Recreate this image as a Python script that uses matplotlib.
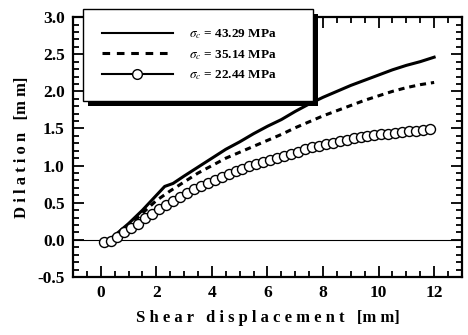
import matplotlib
matplotlib.use('Agg')
import matplotlib.pyplot as plt
from matplotlib.patches import Rectangle
from matplotlib.ticker import MultipleLocator

plt.rcParams['font.family'] = 'Liberation Serif'
plt.rcParams['mathtext.fontset'] = 'stix'

# sigma_c = 43.29 MPa (solid)
x_a = [0.2, 0.5, 1.0, 1.5, 2.0, 2.3, 2.6, 3.0, 3.5, 4.0, 4.5, 5.0, 5.5, 6.0, 6.5,
       7.0, 7.5, 8.0, 8.5, 9.0, 9.5, 10.0, 10.5, 11.0, 11.5, 12.0]
y_a = [-0.03, 0.06, 0.22, 0.40, 0.60, 0.72, 0.76, 0.86, 0.98, 1.10, 1.22, 1.32, 1.43, 1.53, 1.62,
       1.73, 1.83, 1.92, 2.00, 2.08, 2.15, 2.22, 2.29, 2.35, 2.40, 2.46]

# sigma_c = 35.14 MPa (dashed)
x_b = [0.3, 0.6, 1.0, 1.5, 2.0, 2.5, 3.0, 3.5, 4.0, 4.5, 5.0, 5.5, 6.0, 6.5,
       7.0, 7.5, 8.0, 8.5, 9.0, 9.5, 10.0, 10.5, 11.0, 11.5, 12.0]
y_b = [-0.02, 0.06, 0.18, 0.36, 0.53, 0.66, 0.78, 0.90, 1.00, 1.10, 1.18, 1.26, 1.34, 1.42,
       1.51, 1.59, 1.67, 1.74, 1.81, 1.88, 1.94, 2.00, 2.05, 2.09, 2.12]

# sigma_c = 22.44 MPa (circles)
x_c = [0.10, 0.35, 0.60, 0.85, 1.10, 1.35, 1.60, 1.85, 2.10, 2.35, 2.60, 2.85,
       3.10, 3.35, 3.60, 3.85, 4.10, 4.35, 4.60, 4.85, 5.10, 5.35, 5.60, 5.85,
       6.10, 6.35, 6.60, 6.85, 7.10, 7.35, 7.60, 7.85, 8.10, 8.35, 8.60, 8.85,
       9.10, 9.35, 9.60, 9.85, 10.10, 10.35, 10.60, 10.85, 11.10, 11.35, 11.60, 11.85]
y_c = [-0.03, -0.01, 0.04, 0.10, 0.16, 0.22, 0.29, 0.35, 0.41, 0.47, 0.52, 0.58,
       0.63, 0.68, 0.72, 0.77, 0.81, 0.85, 0.89, 0.93, 0.96, 0.99, 1.02, 1.05,
       1.07, 1.10, 1.13, 1.16, 1.19, 1.22, 1.25, 1.27, 1.29, 1.31, 1.33, 1.35,
       1.37, 1.38, 1.40, 1.41, 1.42, 1.43, 1.44, 1.45, 1.46, 1.47, 1.48, 1.49]

labels = [r'$\sigma_c$ = 43.29 MPa', r'$\sigma_c$ = 35.14 MPa', r'$\sigma_c$ = 22.44 MPa']
yticks = [-0.5, 0.0, 0.5, 1.0, 1.5, 2.0, 2.5, 3.0]

fig = plt.figure(figsize=(4.68, 3.35), dpi=100)
ax = fig.add_axes([0.156, 0.173, 0.831, 0.776])

ax.axhline(0, color='k', lw=0.8, zorder=1)
ax.plot(x_a, y_a, color='k', lw=2.2, label=labels[0])
ax.plot(x_b, y_b, color='k', lw=2.2, ls=(0, (2, 1.6)), label=labels[1])
ax.plot(x_c, y_c, color='k', lw=1.0, ls='none', marker='o', ms=7.2,
        mfc='white', mec='k', mew=1.0, label=labels[2])

ax.set_xlim(-1, 13)
ax.set_ylim(-0.5, 3.0)
ax.xaxis.set_major_locator(MultipleLocator(2))
ax.xaxis.set_minor_locator(MultipleLocator(0.5))
ax.set_yticks(yticks)
ax.set_yticklabels(['%.1f' % v for v in yticks])
ax.yaxis.set_minor_locator(MultipleLocator(0.1))
ax.tick_params(which='both', direction='in', top=True, right=True, width=1.3,
               labelsize=12.5, pad=6)
ax.tick_params(which='major', length=8)
ax.tick_params(which='minor', length=4)
for lab in ax.get_xticklabels() + ax.get_yticklabels():
    lab.set_fontweight('bold')
for s in ax.spines.values():
    s.set_linewidth(1.6)

ax.set_xlabel('S h e a r   d i s p l a c e m e n t   [m m]', fontsize=12,
              fontweight='bold', labelpad=6)
ax.set_ylabel('D i l a t i o n   [m m]', fontsize=12, fontweight='bold', labelpad=5)

# legend with a solid black drop shadow
h1 = plt.Line2D([], [], color='k', lw=1.5)
h2 = plt.Line2D([], [], color='k', lw=2.2, ls=(0, (2.5, 2.2)))
h3 = plt.Line2D([], [], color='k', lw=1.5, marker='o', ms=7, mfc='white', mec='k')
leg = ax.legend([h1, h2, h3], labels, loc='upper left', mode='expand',
                bbox_to_anchor=(0.026, 0.7, 0.59, 0.331), borderaxespad=0,
                handlelength=5.4, handletextpad=1.2, labelspacing=0.5, fontsize=9.5,
                fancybox=False, edgecolor='k', framealpha=1, borderpad=1.4)
leg.get_frame().set_linewidth(1.0)
for t in leg.get_texts():
    t.set_fontweight('bold')
leg.set_zorder(6)

fig.canvas.draw()
bb = leg.get_window_extent()
shadow = Rectangle((bb.x0 + 5, bb.y0 - 5), bb.width, bb.height, transform=None,
                   facecolor='k', edgecolor='none', clip_on=False, zorder=5.5)
ax.add_patch(shadow)

fig.savefig('out.png', dpi=100)
